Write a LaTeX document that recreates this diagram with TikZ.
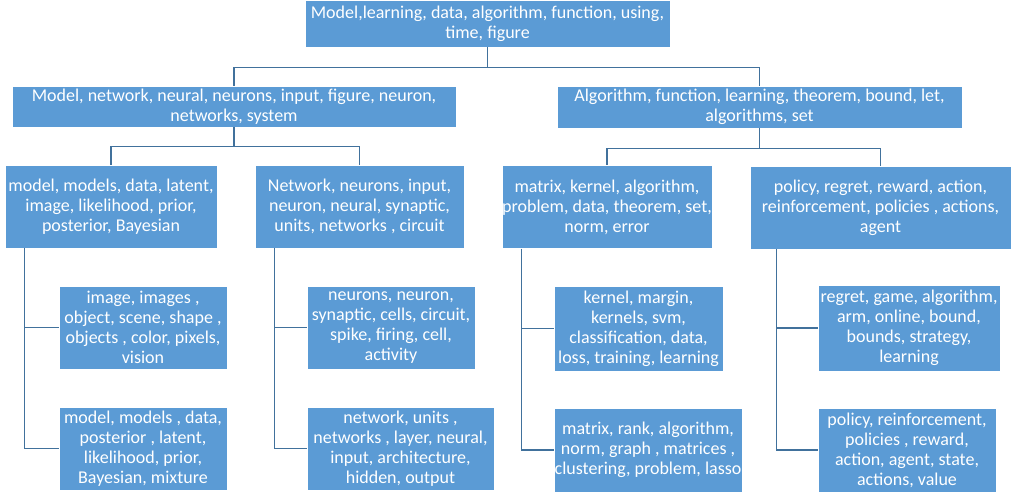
\documentclass[tikz,border=0pt]{standalone}
\usepackage{fontspec}
\setmainfont{Carlito}
\usepackage{xcolor}
\usepackage{tikz}
\usetikzlibrary{positioning}
\definecolor{topicblue}{HTML}{5B9BD5}
\definecolor{linkblue}{HTML}{41719C}

\begin{document}
\begin{tikzpicture}[x=1pt, y=-1pt, font=\fontsize{18}{20}\selectfont]
   \useasboundingbox (0,0) rectangle (1011,492);
   \begin{scope}[every node/.style={rectangle,draw=white,line width=0.6pt,fill=topicblue,text=white,align=center,inner sep=0pt,minimum height=83pt}]
    \node (root) at (487.5,23.5) [minimum width=365pt,minimum height=47pt] {Model,learning, data, algorithm, function, using,\\ time, figure};
    \node (net) at (234,106.5) [minimum width=444pt,minimum height=41pt] {Model, network, neural, neurons, input, figure, neuron,\\ networks, system};
    \node (alg) at (759.5,107) [minimum width=405pt,minimum height=42pt] {Algorithm, function, learning, theorem, bound, let,\\ algorithms, set};
    \node (mod) at (111,206.5) [minimum width=212pt] {model, models, data, latent,\\ image, likelihood, prior,\\ posterior, Bayesian};
    \node (neu) at (359.5,206.5) [minimum width=209pt] {Network, neurons, input,\\ neuron, neural, synaptic,\\ units, networks , circuit};
    \node (mat) at (607,207) [minimum width=210pt] {matrix, kernel, algorithm,\\ problem, data, theorem, set,\\ norm, error};
    \node (pol) at (880.5,207.5) [minimum width=261pt] {policy, regret, reward, action,\\ reinforcement, policies , actions,\\ agent};
    \node (img) at (143,327.5) [minimum width=168pt] {image, images ,\\ object, scene, shape ,\\ objects , color, pixels,\\ vision};
    \node (bay) at (143,448.5) [minimum width=168pt] {model, models , data,\\ posterior , latent,\\ likelihood, prior,\\ Bayesian, mixture};
    \node (spk) at (391,327.5) [minimum width=168pt] {neurons, neuron,\\ synaptic, cells, circuit,\\ spike, firing, cell,\\ activity};
    \node (lay) at (400.5,448.5) [minimum width=187pt] {network, units ,\\ networks , layer, neural,\\ input, architecture,\\ hidden, output};
    \node (svm) at (638.5,328.5) [minimum width=169pt,minimum height=85pt] {kernel, margin,\\ kernels, svm,\\ classification, data,\\ loss, training, learning};
    \node (rnk) at (648,450) [minimum width=188pt,minimum height=84pt] {matrix, rank, algorithm,\\ norm, graph , matrices ,\\ clustering, problem, lasso};
    \node (bnd) at (909,328) [minimum width=182pt,minimum height=86pt] {regret, game, algorithm,\\ arm, online, bound,\\ bounds, strategy,\\ learning};
    \node (rl) at (907,450) [minimum width=178pt,minimum height=84pt] {policy, reinforcement,\\ policies , reward,\\ action, agent, state,\\ actions, value};
   \end{scope}
   \begin{scope}[draw=linkblue, line width=1.3pt]
    % upper levels
    \draw (root.south) -- ++(0,20) -| (net.north);
    \draw (root.south) -- ++(0,20) -| (alg.north);
    \draw (net.south) -- ++(0,19) -| (mod.north);
    \draw (net.south) -- ++(0,19) -| (neu.north);
    \draw (alg.south) -- ++(0,20) -| (mat.north);
    \draw (alg.south) -- ++(0,20) -| (pol.north);
    % side branches
    \draw ([xshift=20pt]mod.south west) |- (img.west);
    \draw ([xshift=20pt]mod.south west) |- (bay.west);
    \draw ([xshift=20pt]neu.south west) |- (spk.west);
    \draw ([xshift=20pt]neu.south west) |- (lay.west);
    \draw ([xshift=20pt]mat.south west) |- (svm.west);
    \draw ([xshift=20pt]mat.south west) |- (rnk.west);
    \draw ([xshift=27pt]pol.south west) |- (bnd.west);
    \draw ([xshift=27pt]pol.south west) |- (rl.west);
   \end{scope}
\end{tikzpicture}
\end{document}
